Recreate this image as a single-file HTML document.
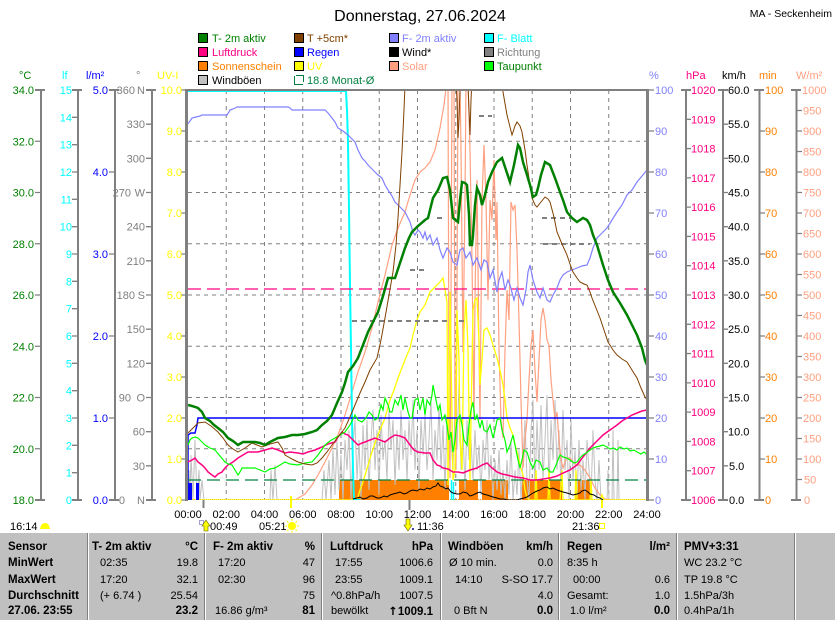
<!DOCTYPE html>
<html><head><meta charset="utf-8">
<style>
html,body{margin:0;padding:0;background:#fff;}
body{width:835px;height:620px;position:relative;overflow:hidden;font-family:"Liberation Sans",sans-serif;}
.tb{position:absolute;left:0;top:533px;width:835px;height:87px;background:#c0c0c0;}
.sd{position:absolute;top:533px;height:87px;width:1px;}
.t{position:absolute;font-size:11px;white-space:nowrap;line-height:14px;color:#000;}
.b{font-weight:bold;font-size:11.5px;}
</style></head><body>
<svg width="835" height="533" style="position:absolute;left:0;top:0" font-family="Liberation Sans, sans-serif" font-size="11">
<defs><clipPath id="pc"><rect x="188" y="90" width="459" height="410"/></clipPath></defs>
<text x="420" y="21" text-anchor="middle" font-size="16">Donnerstag, 27.06.2024</text>
<text x="832" y="17" text-anchor="end" font-size="10.5">MA - Seckenheim</text>
<!-- legend -->
<g stroke="#000" stroke-width="1">
<rect x="198.5" y="33.5" width="9" height="9" fill="#008000"/>
<rect x="294.5" y="33.5" width="9" height="9" fill="#804000"/>
<rect x="389.5" y="33.5" width="9" height="9" fill="#8080ff"/>
<rect x="484.5" y="33.5" width="9" height="9" fill="#00ffff"/>
<rect x="198.5" y="47.5" width="9" height="9" fill="#ff0080"/>
<rect x="294.5" y="47.5" width="9" height="9" fill="#0000ff"/>
<rect x="389.5" y="47.5" width="9" height="9" fill="#000000"/>
<rect x="484.5" y="47.5" width="9" height="9" fill="#808080"/>
<rect x="198.5" y="61.5" width="9" height="9" fill="#ff8000"/>
<rect x="294.5" y="61.5" width="9" height="9" fill="#ffff00"/>
<rect x="389.5" y="61.5" width="9" height="9" fill="#ffa080"/>
<rect x="484.5" y="61.5" width="9" height="9" fill="#00ff00"/>
<rect x="198.5" y="75.5" width="9" height="9" fill="#c0c0c0"/>
</g>
<path d="M294.5,76 V84.5 H303 M296,75.5 H303.5 V82" fill="none" stroke="#008040" stroke-width="1"/>
<g font-size="11">
<text x="212" y="42" fill="#008000">T- 2m aktiv</text>
<text x="307" y="42" fill="#804000">T +5cm*</text>
<text x="402" y="42" fill="#8080ff">F- 2m aktiv</text>
<text x="497" y="42" fill="#00ffff">F- Blatt</text>
<text x="212" y="56" fill="#ff0080">Luftdruck</text>
<text x="307" y="56" fill="#0000ff">Regen</text>
<text x="402" y="56" fill="#000">Wind*</text>
<text x="497" y="56" fill="#808080">Richtung</text>
<text x="212" y="70" fill="#ff8000">Sonnenschein</text>
<text x="307" y="70" fill="#ffff00">UV</text>
<text x="402" y="70" fill="#ffa080">Solar</text>
<text x="497" y="70" fill="#008000">Taupunkt</text>
<text x="212" y="84" fill="#000">Windböen</text>
<text x="307" y="84" fill="#008040">18.8 Monat-Ø</text>
</g>
<!-- axis headers -->
<g font-size="11">
<text x="19" y="79" fill="#008000">°C</text>
<text x="62" y="79" fill="#00ffff">lf</text>
<text x="86" y="79" fill="#0000ff">l/m²</text>
<text x="136" y="79" fill="#808080">°</text>
<text x="157" y="79" fill="#ffff00">UV-I</text>
<text x="649" y="79" fill="#8080ff">%</text>
<text x="686" y="79" fill="#ff0080">hPa</text>
<text x="722" y="79" fill="#000">km/h</text>
<text x="759" y="79" fill="#ff8000">min</text>
<text x="796" y="79" fill="#ffa080">W/m²</text>
</g>
<!-- axis lines -->
<g stroke="#808080" stroke-width="2" fill="none">
<path d="M41,90V500 M78,90V500 M115,90V500 M152,90V500 M686,90V500 M723,90V500 M759.5,90V500 M796.5,90V500"/>
<path d="M35,90H45 M35,500H45 M72,90H82 M72,500H82 M109,90H119 M109,500H119 M146,90H156 M146,500H156 M681,90H691 M681,500H691 M718,90H728 M718,500H728 M754,90H764 M754,500H764 M791,90H801 M791,500H801"/>
</g>
<g stroke="#808080" stroke-width="1.3">
<path d="M35,141.25H41 M35,192.5H41 M35,243.75H41 M35,295H41 M35,346.25H41 M35,397.5H41 M35,448.75H41"/>
<path d="M72,117.33H78 M72,144.67H78 M72,172H78 M72,199.33H78 M72,226.67H78 M72,254H78 M72,281.33H78 M72,308.67H78 M72,336H78 M72,363.33H78 M72,390.67H78 M72,418H78 M72,445.33H78 M72,472.67H78"/>
<path d="M109,172H115 M109,254H115 M109,336H115 M109,418H115"/>
<path d="M146,124.17H152 M146,158.33H152 M146,192.5H152 M146,226.67H152 M146,260.83H152 M146,295H152 M146,329.17H152 M146,363.33H152 M146,397.5H152 M146,431.67H152 M146,465.83H152"/>
<path d="M181,90H187 M181,131H187 M181,172H187 M181,213H187 M181,254H187 M181,295H187 M181,336H187 M181,377H187 M181,418H187 M181,459H187 M181,500H187"/>
<path d="M647,90H654 M647,131H654 M647,172H654 M647,213H654 M647,254H654 M647,295H654 M647,336H654 M647,377H654 M647,418H654 M647,459H654 M647,500H654"/>
<path d="M686,119.29H691 M686,148.57H691 M686,177.86H691 M686,207.14H691 M686,236.43H691 M686,265.71H691 M686,295H691 M686,324.29H691 M686,353.57H691 M686,382.86H691 M686,412.14H691 M686,441.43H691 M686,470.71H691"/>
<path d="M723,124.17H728 M723,158.33H728 M723,192.5H728 M723,226.67H728 M723,260.83H728 M723,295H728 M723,329.17H728 M723,363.33H728 M723,397.5H728 M723,431.67H728 M723,465.83H728"/>
<path d="M759.5,131H765 M759.5,172H765 M759.5,213H765 M759.5,254H765 M759.5,295H765 M759.5,336H765 M759.5,377H765 M759.5,418H765 M759.5,459H765"/>
<path d="M796.5,110.5H802 M796.5,131H802 M796.5,151.5H802 M796.5,172H802 M796.5,192.5H802 M796.5,213H802 M796.5,233.5H802 M796.5,254H802 M796.5,274.5H802 M796.5,295H802 M796.5,315.5H802 M796.5,336H802 M796.5,356.5H802 M796.5,377H802 M796.5,397.5H802 M796.5,418H802 M796.5,438.5H802 M796.5,459H802 M796.5,479.5H802"/>
</g>
<!-- left labels -->
<g text-anchor="end" fill="#008000">
<text x="34" y="94">34.0</text><text x="34" y="145.25">32.0</text><text x="34" y="196.5">30.0</text><text x="34" y="247.75">28.0</text><text x="34" y="299">26.0</text><text x="34" y="350.25">24.0</text><text x="34" y="401.5">22.0</text><text x="34" y="452.75">20.0</text><text x="34" y="504">18.0</text>
</g>
<g text-anchor="end" fill="#00ffff">
<text x="72" y="94">15</text><text x="72" y="121.33">14</text><text x="72" y="148.67">13</text><text x="72" y="176">12</text><text x="72" y="203.33">11</text><text x="72" y="230.67">10</text><text x="72" y="258">9</text><text x="72" y="285.33">8</text><text x="72" y="312.67">7</text><text x="72" y="340">6</text><text x="72" y="367.33">5</text><text x="72" y="394.67">4</text><text x="72" y="422">3</text><text x="72" y="449.33">2</text><text x="72" y="476.67">1</text><text x="72" y="504">0</text>
</g>
<g text-anchor="end" fill="#0000ff">
<text x="108" y="94">5.0</text><text x="108" y="176">4.0</text><text x="108" y="258">3.0</text><text x="108" y="340">2.0</text><text x="108" y="422">1.0</text><text x="108" y="504">0.0</text>
</g>
<g text-anchor="end" fill="#808080">
<text x="135" y="94">360</text><text x="145" y="94">N</text>
<text x="145" y="128.17">330</text>
<text x="145" y="162.33">300</text>
<text x="131" y="196.5">270</text><text x="145" y="196.5">W</text>
<text x="145" y="230.67">240</text>
<text x="145" y="264.83">210</text>
<text x="135" y="299">180</text><text x="145" y="299">S</text>
<text x="145" y="333.17">150</text>
<text x="145" y="367.33">120</text>
<text x="131" y="401.5">90</text><text x="145" y="401.5">O</text>
<text x="145" y="435.67">60</text>
<text x="145" y="469.83">30</text>
<text x="125" y="504">0</text><text x="145" y="504">N</text>
</g>
<g text-anchor="end" fill="#ffff00">
<text x="182" y="94">10.0</text><text x="182" y="135">9.0</text><text x="182" y="176">8.0</text><text x="182" y="217">7.0</text><text x="182" y="258">6.0</text><text x="182" y="299">5.0</text><text x="182" y="340">4.0</text><text x="182" y="381">3.0</text><text x="182" y="422">2.0</text><text x="182" y="463">1.0</text><text x="182" y="504">0.0</text>
</g>
<!-- right labels -->
<g fill="#8080ff">
<text x="655" y="94">100</text><text x="655" y="135">90</text><text x="655" y="176">80</text><text x="655" y="217">70</text><text x="655" y="258">60</text><text x="655" y="299">50</text><text x="655" y="340">40</text><text x="655" y="381">30</text><text x="655" y="422">20</text><text x="655" y="463">10</text><text x="655" y="504">0</text>
</g>
<g fill="#ff0080">
<text x="691" y="94">1020</text><text x="691" y="123.29">1019</text><text x="691" y="152.57">1018</text><text x="691" y="181.86">1017</text><text x="691" y="211.14">1016</text><text x="691" y="240.43">1015</text><text x="691" y="269.71">1014</text><text x="691" y="299">1013</text><text x="691" y="328.29">1012</text><text x="691" y="357.57">1011</text><text x="691" y="386.86">1010</text><text x="691" y="416.14">1009</text><text x="691" y="445.43">1008</text><text x="691" y="474.71">1007</text><text x="691" y="504">1006</text>
</g>
<g fill="#000">
<text x="728" y="94">60.0</text><text x="728" y="128.17">55.0</text><text x="728" y="162.33">50.0</text><text x="728" y="196.5">45.0</text><text x="728" y="230.67">40.0</text><text x="728" y="264.83">35.0</text><text x="728" y="299">30.0</text><text x="728" y="333.17">25.0</text><text x="728" y="367.33">20.0</text><text x="728" y="401.5">15.0</text><text x="728" y="435.67">10.0</text><text x="729" y="469.83">5.0</text><text x="729" y="504">0.0</text>
</g>
<g fill="#ff8000">
<text x="765" y="94">100</text><text x="765" y="135">90</text><text x="765" y="176">80</text><text x="765" y="217">70</text><text x="765" y="258">60</text><text x="765" y="299">50</text><text x="765" y="340">40</text><text x="765" y="381">30</text><text x="765" y="422">20</text><text x="765" y="463">10</text><text x="765" y="504">0</text>
</g>
<g fill="#ffa080">
<text x="802" y="94">1000</text><text x="803" y="114.5">950</text><text x="803" y="135">900</text><text x="803" y="155.5">850</text><text x="803" y="176">800</text><text x="803" y="196.5">750</text><text x="803" y="217">700</text><text x="803" y="237.5">650</text><text x="803" y="258">600</text><text x="803" y="278.5">550</text><text x="803" y="299">500</text><text x="803" y="319.5">450</text><text x="803" y="340">400</text><text x="803" y="360.5">350</text><text x="803" y="381">300</text><text x="803" y="401.5">250</text><text x="803" y="422">200</text><text x="803" y="442.5">150</text><text x="803" y="463">100</text><text x="804" y="483.5">50</text><text x="804" y="504">0</text>
</g>
<!-- grid -->
<g stroke="#808080" stroke-width="1" stroke-dasharray="4,4">
<path d="M188,141.25H647 M188,192.5H647 M188,243.75H647 M188,295H647 M188,346.25H647 M188,397.5H647 M188,448.75H647"/>
<path d="M226.25,90V500 M264.5,90V500 M302.75,90V500 M341,90V500 M379.25,90V500 M417.5,90V500 M455.75,90V500 M494,90V500 M532.25,90V500 M570.5,90V500 M608.75,90V500"/>
</g>
<g clip-path="url(#pc)">
<!-- sunshine -->
<g fill="#ff8000">
<rect x="339" y="480" width="110" height="20"/>
<rect x="459" y="480" width="19" height="20"/>
<rect x="482" y="480" width="26" height="20"/>
<rect x="522" y="480" width="40" height="20"/>
<rect x="575" y="480" width="15" height="20"/>
</g>
<line x1="188" y1="499.5" x2="647" y2="499.5" stroke="#ff8000" stroke-width="1" stroke-dasharray="1,1"/>
<!-- windboeen -->
<polyline fill="none" stroke="#c0c0c0" stroke-width="1" points="188,500 189,470 190,500 191,455 193,500 195,440 197,500 199,470 200,500 202,480 204,500 270,500 271,470 273,500 275,465 277,500 322,500 324,470 326,500 329,460 331,500 333,450 335,495 337,440 339,490 341,455 343,500 345,440 347,470 349,430 351,500 353,445 355,420 357,480 359,440 361,500 363,425 365,470 367,420 369,490 371,440 373,410 375,470 377,430 379,495 381,415 383,460 385,440 387,480 389,410 391,450 393,420 395,485 397,430 399,470 401,410 403,460 405,430 407,480 409,420 411,455 413,400 415,470 417,430 419,490 421,420 423,455 425,415 427,470 429,440 431,400 433,480 435,430 437,460 439,405 441,470 443,425 445,490 447,415 449,460 451,440 453,470 455,410 457,450 459,382 461,470 463,430 465,490 467,420 469,460 471,440 473,480 475,430 477,470 479,445 481,495 483,440 485,470 487,420 489,480 491,455 493,500 495,460 497,490 499,450 501,495 503,470 505,500 507,460 509,495 511,440 513,500 515,470 517,495 519,450 521,500 523,460 525,420 527,480 529,500 531,430 533,400 535,490 537,420 539,470 541,405 543,480 545,440 547,395 549,490 551,420 553,460 555,400 557,470 559,430 561,490 563,410 565,470 567,440 569,500 571,420 573,480 575,450 577,500 579,440 581,490 583,460 585,500 587,440 589,470 591,500 593,430 595,480 597,500 599,460 601,500 607,500 608,470 609,500 612,500 613,430 614,500 617,500 618,440 619,500 647,500"/>
<!-- solar -->
<polyline fill="none" stroke="#ffa080" stroke-width="1.2" points="295,500 305,494 312,485 318,475 325,462 332,448 338,435 345,415 352,392 358,372 365,352 372,328 378,302 385,275 392,245 398,228 405,212 410,195 415,180 420,172 425,168 430,162 435,150 440,128 444,105 447,80 448,80 449,400 450,478 451,300 452,80 454,80 455,420 456,470 457,300 458,80 460,80 461,150 463,352 465,200 466,80 468,80 470,150 472,260 474,420 475,298 477,180 479,350 480,420 482,200 484,145 486,200 488,300 490,200 492,220 494,160 496,240 497,202 499,350 501,420 503,438 505,350 507,290 509,320 511,202 513,210 515,205 517,250 519,320 521,400 523,468 525,440 527,420 529,380 531,345 533,330 535,370 537,402 539,360 541,320 543,308 545,320 547,340 549,345 551,380 553,400 555,420 557,412 559,440 561,460 563,468 565,462 567,458 570,458 573,462 577,465 580,465 585,470 590,478 595,488 600,495 605,499 612,500"/>
<!-- UV -->
<polyline fill="none" stroke="#ffff00" stroke-width="1.3" points="188,500 356,500 358,497 360,490 362,485 366,472 369,462 372,452 376,440 380,430 385,418 390,400 394,390 398,378 403,365 407,355 410,348 413,335 417,320 420,312 425,305 430,292 435,287 440,282 443,278 446,295 447,302 448,485 449,400 450,292 451,350 452,420 453,480 455,470 456,400 457,310 459,360 460,440 462,470 464,330 466,300 468,350 470,480 471,420 473,310 475,300 477,298 479,340 480,385 482,360 484,330 487,328 490,335 493,345 497,358 500,370 503,385 505,400 507,418 510,428 513,435 515,445 517,452 520,465 523,475 525,490 527,498 530,500 535,500 536,470 537,500 548,500 549,470 550,500 560,500 562,470 563,500 575,500 576,470 577,500 590,500 591,480 592,500 600,500 602,495 604,500 647,500"/>
<!-- F-Blatt -->
<polyline fill="none" stroke="#00ffff" stroke-width="2" points="188,91 346,91 347,110 348,142 349,210 350,285 351,350 352,418 353,470 354,500 360,500"/>
<path d="M451.5,500V480 M453.5,500V482" stroke="#00ffff" stroke-width="1.5"/>
<!-- Regen -->
<polyline fill="none" stroke="#0000ff" stroke-width="1.5" points="188,500 188,435 191,433 195,433 197,425 198,418 647,418"/>
<rect x="188" y="483" width="4" height="17" fill="#0000ff"/>
<rect x="196" y="483" width="3" height="17" fill="#0000ff"/>
<!-- dashed month lines -->
<line x1="188" y1="289" x2="647" y2="289" stroke="#ff0080" stroke-width="1.3" stroke-dasharray="13,6"/>
<line x1="188" y1="480" x2="647" y2="480" stroke="#008040" stroke-width="1.3" stroke-dasharray="13,6"/>
<!-- Luftdruck -->
<polyline fill="none" stroke="#ff0080" stroke-width="1.5" points="188,462 192,460 195,458 198,462 202,465 205,468 208,472 212,475 215,477 218,474 222,472 225,468 228,465 233,462 238,458 243,455 248,452 253,452 258,452 265,450 272,448 278,450 285,453 290,452 298,453 303,454 308,452 315,450 322,447 328,444 335,442 338,437 342,432 345,434 348,435 353,440 358,445 362,443 365,442 370,440 375,438 380,440 385,442 390,438 395,435 400,436 405,438 410,445 414,450 418,452 425,453 430,453 433,460 437,465 440,466 443,468 448,469 453,472 458,472 463,473 470,470 477,468 482,465 487,463 492,468 497,472 502,474 507,475 515,477 523,478 530,480 537,480 543,479 550,478 557,476 563,473 570,470 577,465 583,457 590,448 597,441 603,435 610,430 617,425 622,421 627,418 632,415 637,413 642,411 647,410"/>
<!-- Taupunkt -->
<polyline fill="none" stroke="#00ff00" stroke-width="1.2" points="188,445 190,440 192,438 195,437 198,438 202,442 205,445 210,448 215,450 220,456 225,462 228,464 232,465 235,470 238,475 240,472 242,468 248,468 255,468 260,470 265,472 270,469 275,468 280,465 285,462 290,464 298,465 305,463 312,462 318,455 325,445 330,441 335,438 340,435 345,432 350,425 355,415 358,420 362,422 366,418 369,412 372,415 375,420 378,418 381,405 383,410 385,398 388,405 390,412 392,412 395,400 398,405 401,395 403,410 405,398 408,412 410,418 412,418 415,400 418,398 420,410 423,398 425,415 427,400 430,405 432,395 433,385 436,400 438,410 440,405 442,420 445,415 447,425 449,440 451,432 453,452 455,440 457,420 460,415 462,425 464,440 467,445 469,425 471,410 473,402 475,420 477,415 480,428 482,420 484,430 487,432 490,425 493,438 495,430 497,420 500,418 502,430 505,440 507,452 510,445 513,435 516,450 518,460 520,468 522,460 524,450 527,452 530,462 533,468 536,460 540,462 543,470 547,468 550,472 553,472 556,465 558,460 560,455 563,457 567,458 570,460 574,463 577,462 580,458 583,455 586,453 590,450 593,448 596,447 600,446 603,445 607,447 610,449 613,448 617,450 620,447 624,449 627,448 630,451 634,450 637,452 641,454 644,452 647,455"/>
<!-- F 2m -->
<polyline fill="none" stroke="#8080ff" stroke-width="1.2" points="187,125 190,121 192,118 196,117 200,116 202,115 210,115 227,115 229,112 230,110 233,109 235,108 237,107 242,107 288,107 290,108 292,110 325,110 328,113 332,118 335,122 338,128 343,131 348,135 352,139 355,142 358,150 362,158 365,161 368,165 373,170 378,175 382,178 385,185 388,190 392,196 395,202 400,207 405,212 410,222 413,232 415,235 418,230 420,232 423,238 425,232 427,240 430,235 433,245 437,238 440,250 443,258 447,248 450,252 453,262 457,265 460,250 463,248 466,258 470,252 473,265 477,258 481,270 484,260 487,262 490,278 493,270 497,292 499,280 502,272 505,290 508,280 510,285 514,300 517,288 520,298 523,305 526,290 528,272 530,265 533,280 537,292 540,298 543,288 547,300 550,302 553,295 557,288 560,280 563,275 567,272 572,270 577,268 582,266 587,265 590,258 593,248 597,238 600,235 603,232 607,228 612,220 617,212 622,205 627,195 632,190 637,182 642,176 647,170"/>
<!-- Richtung -->
<g stroke="#808080" stroke-width="2" stroke-dasharray="5,4">
<path d="M352,321H447 M459,321H466 M410,270H426 M437,218H444 M542,218H573 M479,116H492 M543,244H590"/>
</g>
<!-- T+5cm -->
<polyline fill="none" stroke="#804000" stroke-width="1" points="188,433 193,428 198,423 205,422 211,426 218,432 223,438 228,445 233,449 238,452 245,448 252,443 257,445 262,447 270,444 278,442 282,448 285,455 292,459 298,462 305,464 312,465 317,463 322,458 327,452 332,445 338,437 345,428 350,417 355,405 360,393 365,382 370,370 377,358 381,340 385,318 389,295 393,272 396,245 398,218 400,185 402,152 404,110 405,85 407,60 455,60 457,100 458,138 459,120 461,60 467,60 469,110 470,135 471,100 473,60 501,60 503,92 507,115 512,135 515,126 517,122 520,126 522,132 525,150 527,165 530,185 532,198 535,205 537,207 541,202 545,197 548,199 550,202 554,217 557,232 562,244 567,255 570,264 573,272 577,278 580,282 584,284 587,285 590,292 592,298 596,308 600,318 604,330 608,342 613,350 617,355 622,359 627,362 632,370 637,378 641,388 645,397 647,400"/>
<!-- T 2m -->
<polyline fill="none" stroke="#008000" stroke-width="2.5" points="188,405 192,406 198,408 202,412 205,418 210,421 214,425 218,428 223,432 228,438 233,441 238,445 243,442 248,442 255,442 260,443 265,445 270,442 278,438 285,437 292,435 298,435 305,434 312,432 317,430 322,425 327,421 332,415 337,403 342,392 345,383 348,372 353,366 358,358 363,345 368,332 373,322 378,312 383,296 388,278 391,278 395,278 400,263 405,248 409,238 412,232 418,226 425,220 428,218 433,198 438,190 443,178 447,177 450,190 453,218 458,222 460,200 462,182 465,183 467,185 469,215 470,245 472,245 473,235 475,205 477,188 480,195 482,205 485,195 488,182 492,172 497,162 502,158 506,170 510,182 514,165 518,145 520,148 523,162 527,175 530,185 533,197 536,195 538,188 541,175 545,162 550,165 555,178 560,192 563,200 567,212 572,218 577,222 580,220 583,218 587,220 590,225 593,235 597,245 600,255 603,265 608,280 613,292 620,303 627,315 632,325 637,335 642,348 645,360 647,365"/>
<!-- Wind -->
<polyline fill="none" stroke="#000" stroke-width="1" points="353,499 357,498 360,497 363,499 367,498 370,496 373,496 377,498 380,498 384,496 387,497 390,495 393,494 397,493 400,492 404,494 407,493 410,491 413,490 417,491 420,489 424,490 427,488 430,489 433,487 436,486 438,483 440,486 443,487 446,489 448,488 451,492 453,493 457,494 460,494 463,492 467,493 470,496 473,495 477,493 480,492 483,494 487,495 490,496 493,497 497,498 500,499 504,499 507,500 517,500 520,499 524,498 527,497 530,495 533,493 537,491 540,490 543,488 547,487 550,489 553,488 557,490 560,491 563,492 567,493 570,494 573,495 577,494 580,493 582,491 585,490 588,492 590,494 594,495 597,497 600,498 603,500"/>
</g>
<!-- plot border -->
<path d="M188,90H647" stroke="#808080" stroke-width="2"/>
<path d="M186.5,89V501" stroke="#808080" stroke-width="3"/>
<path d="M647.5,89V501" stroke="#808080" stroke-width="3"/>
<!-- x ticks/markers -->
<path d="M291,496V508" stroke="#ffff00" stroke-width="2"/>
<path d="M602,500V508" stroke="#ffff00" stroke-width="2"/>
<path d="M203.5,500V508 M409.5,500V510" stroke="#808080" stroke-width="2"/>
<!-- x labels -->
<g text-anchor="middle">
<text x="188" y="518">00:00</text><text x="226.25" y="518">02:00</text><text x="264.5" y="518">04:00</text><text x="302.75" y="518">06:00</text><text x="341" y="518">08:00</text><text x="379.25" y="518">10:00</text><text x="417.5" y="518">12:00</text><text x="455.75" y="518">14:00</text><text x="494" y="518">16:00</text><text x="532.25" y="518">18:00</text><text x="570.5" y="518">20:00</text><text x="608.75" y="518">22:00</text><text x="647" y="518">24:00</text>
</g>
<text x="10" y="530">16:14</text>
<path d="M40,529 Q41,523 45,523 Q49,523 50,529 Z" fill="#ffff00"/>
<rect x="199.5" y="520.5" width="4" height="4" fill="none" stroke="#4040a0" stroke-width="1" stroke-dasharray="1,1"/>
<path d="M206,520 L210,526 H208 V531 H204 V526 H202 Z" fill="#ffff00" stroke="#606000" stroke-width="0.6"/>
<text x="210" y="530">00:49</text>
<text x="259" y="530">05:21</text>
<circle cx="292" cy="526" r="4" fill="#ffff00"/>
<path d="M292,519V521 M292,531V533 M285,526H287 M297,526H299 M287,521L288.5,522.5 M297,521L295.5,522.5 M287,531L288.5,529.5 M297,531L295.5,529.5" stroke="#ffff00" stroke-width="1"/>
<path d="M406,519 H410 V525 H412 L408,531 L404,525 H406 Z" fill="#ffff00" stroke="#606000" stroke-width="0.6"/>
<rect x="412" y="528" width="2" height="2" fill="#4040a0"/>
<text x="417" y="530">11:36</text>
<text x="572" y="530">21:36</text>
<rect x="599.5" y="523.5" width="5" height="5" fill="none" stroke="#ffff00" stroke-width="1"/>
</svg>

<div class="tb"></div>
<div class="sd" style="left:87px;background:#808080"></div><div class="sd" style="left:88px;background:#fff"></div>
<div class="sd" style="left:204px;background:#808080"></div><div class="sd" style="left:205px;background:#fff"></div>
<div class="sd" style="left:321px;background:#808080"></div><div class="sd" style="left:322px;background:#fff"></div>
<div class="sd" style="left:440px;background:#808080"></div><div class="sd" style="left:441px;background:#fff"></div>
<div class="sd" style="left:558px;background:#808080"></div><div class="sd" style="left:559px;background:#fff"></div>
<div class="sd" style="left:676px;background:#808080"></div><div class="sd" style="left:677px;background:#fff"></div>
<div class="sd" style="left:794px;background:#808080"></div><div class="sd" style="left:795px;background:#fff"></div>

<!-- col0 -->
<div class="t b" style="left:8px;top:540px">Sensor</div>
<div class="t b" style="left:8px;top:556px">MinWert</div>
<div class="t b" style="left:8px;top:573px">MaxWert</div>
<div class="t b" style="left:8px;top:589px">Durchschnitt</div>
<div class="t b" style="left:8px;top:604px">27.06. 23:55</div>
<!-- col1 -->
<div class="t b" style="left:92px;top:540px">T- 2m aktiv</div>
<div class="t b" style="right:637px;top:540px">°C</div>
<div class="t" style="left:100px;top:556px">02:35</div><div class="t" style="right:637px;top:556px">19.8</div>
<div class="t" style="left:100px;top:573px">17:20</div><div class="t" style="right:637px;top:573px">32.1</div>
<div class="t" style="left:100px;top:589px">(+ 6.74 )</div><div class="t" style="right:637px;top:589px">25.54</div>
<div class="t b" style="right:637px;top:604px">23.2</div>
<!-- col2 -->
<div class="t b" style="left:213px;top:540px">F- 2m aktiv</div>
<div class="t b" style="right:520px;top:540px">%</div>
<div class="t" style="left:218px;top:556px">17:20</div><div class="t" style="right:520px;top:556px">47</div>
<div class="t" style="left:218px;top:573px">02:30</div><div class="t" style="right:520px;top:573px">96</div>
<div class="t" style="right:520px;top:589px">75</div>
<div class="t" style="left:215px;top:604px">16.86 g/m³</div><div class="t b" style="right:520px;top:604px">81</div>
<!-- col3 -->
<div class="t b" style="left:330px;top:540px">Luftdruck</div>
<div class="t b" style="right:402px;top:540px">hPa</div>
<div class="t" style="left:335px;top:556px">17:55</div><div class="t" style="right:402px;top:556px">1006.6</div>
<div class="t" style="left:335px;top:573px">23:55</div><div class="t" style="right:402px;top:573px">1009.1</div>
<div class="t" style="left:331px;top:589px">^0.8hPa/h</div><div class="t" style="right:402px;top:589px">1007.5</div>
<div class="t" style="left:331px;top:604px">bewölkt</div><div class="t b" style="right:402px;top:604px"><span style="font-family:'DejaVu Sans',sans-serif">↑</span>1009.1</div>
<!-- col4 -->
<div class="t b" style="left:448px;top:540px">Windböen</div>
<div class="t b" style="right:282px;top:540px">km/h</div>
<div class="t" style="left:449px;top:556px">Ø 10 min.</div><div class="t" style="right:282px;top:556px">0.0</div>
<div class="t" style="left:455px;top:573px">14:10</div><div class="t" style="right:282px;top:573px">S-SO 17.7</div>
<div class="t" style="right:282px;top:589px">4.0</div>
<div class="t" style="left:454px;top:604px">0 Bft N</div><div class="t b" style="right:282px;top:604px">0.0</div>
<!-- col5 -->
<div class="t b" style="left:567px;top:540px">Regen</div>
<div class="t b" style="right:165px;top:540px">l/m²</div>
<div class="t" style="left:567px;top:556px">8:35 h</div>
<div class="t" style="left:573px;top:573px">00:00</div><div class="t" style="right:165px;top:573px">0.6</div>
<div class="t" style="left:567px;top:589px">Gesamt:</div><div class="t" style="right:165px;top:589px">1.0</div>
<div class="t" style="left:570px;top:604px">1.0 l/m²</div><div class="t b" style="right:165px;top:604px">0.0</div>
<!-- col6 -->
<div class="t b" style="left:684px;top:540px">PMV+3:31</div>
<div class="t" style="left:684px;top:556px">WC 23.2 °C</div>
<div class="t" style="left:684px;top:573px">TP 19.8 °C</div>
<div class="t" style="left:684px;top:589px">1.5hPa/3h</div>
<div class="t" style="left:684px;top:604px">0.4hPa/1h</div>
</body></html>
